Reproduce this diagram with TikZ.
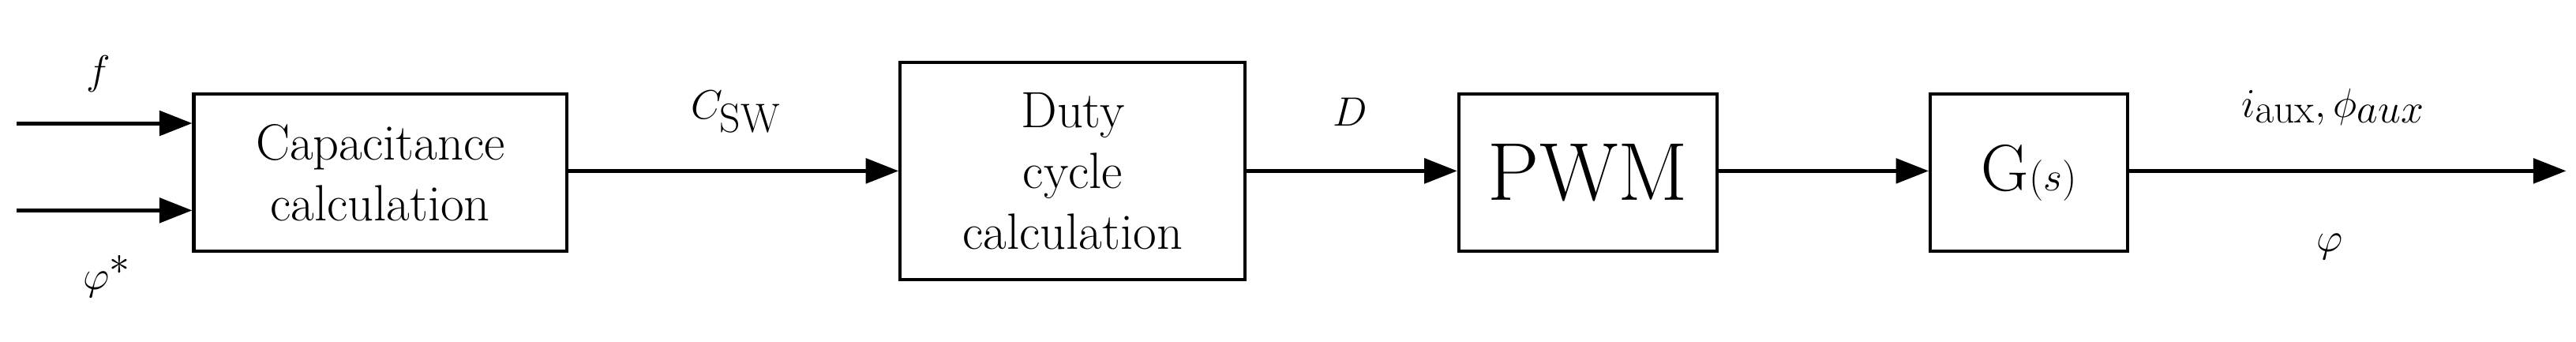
\documentclass[tikz,border=0pt]{standalone}
\usetikzlibrary{arrows.meta}
\begin{document}
\begin{tikzpicture}[x=1pt,y=-1pt,
  blk/.style={draw,line width=2pt,inner sep=0pt,align=center},
  ar/.style={line width=2.4pt,-{Triangle[length=20pt,width=15pt]}},
  big/.style={font=\fontsize{31}{37}\selectfont},
  lab/.style={font=\fontsize{38}{44}\selectfont}]
\useasboundingbox (0,0) rectangle (1568,208);
\node[blk,big,minimum width=227pt,minimum height=96pt] (b1) at (231.5,105) {Capacitance\\calculation};
\node[blk,big,minimum width=210pt,minimum height=132pt] (b2) at (653,104) {Duty\\cycle\\calculation};
\node[blk,font=\fontsize{50}{56}\selectfont,minimum width=157pt,minimum height=96pt] (b3) at (966.5,105) {PWM};
\node[blk,font=\fontsize{40}{46}\selectfont,minimum width=120pt,minimum height=96pt] (b4) at (1235,105) {G$(s)$};
\coordinate (i1) at (10,75);
\coordinate (i2) at (10,128);
\coordinate (o) at (1562,104);
\draw[ar] (i1) -- (i1 -| b1.west);
\draw[ar] (i2) -- (i2 -| b1.west);
\draw[ar] (b1.east |- 0,104) -- (b2.west |- 0,104);
\draw[ar] (b2.east |- 0,104) -- (b3.west |- 0,104);
\draw[ar] (b3.east |- 0,104) -- (b4.west |- 0,104);
\draw[ar] (b4.east |- 0,104) -- (o);
\node[lab] (lf) at (60,45) {$f$};
\node[lab] (lphi) at (65,168) {$\varphi^*$};
\node[lab] (lc) at (448,68) {$C_{\mathrm{SW}}$};
\node[lab] (ld) at (822,68) {$D$};
\node[lab] (li) at (1420,65) {$i_{\mathrm{aux}},\phi_{aux}$};
\node[lab] (lp) at (1418,150) {$\varphi$};
\end{tikzpicture}
\end{document}
